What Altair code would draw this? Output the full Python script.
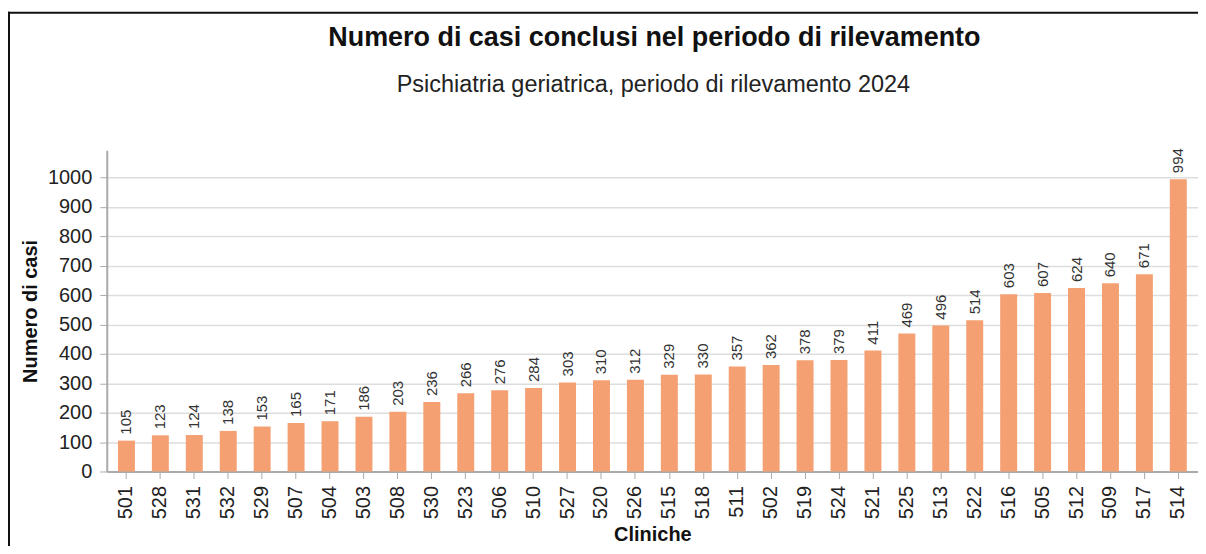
import altair as alt
import pandas as pd

cliniche = ["501", "528", "531", "532", "529", "507", "504", "503", "508", "530",
            "523", "506", "510", "527", "520", "526", "515", "518", "511", "502",
            "519", "524", "521", "525", "513", "522", "516", "505", "512", "509",
            "517", "514"]
casi = [105, 123, 124, 138, 153, 165, 171, 186, 203, 236,
        266, 276, 284, 303, 310, 312, 329, 330, 357, 362,
        378, 379, 411, 469, 496, 514, 603, 607, 624, 640,
        671, 994]
y_ticks = [0, 100, 200, 300, 400, 500, 600, 700, 800, 900, 1000]
title_text = "Numero di casi conclusi nel periodo di rilevamento"
subtitle_text = "Psichiatria geriatrica, periodo di rilevamento 2024"

df = pd.DataFrame({"Cliniche": cliniche, "Casi": casi})
one_row = pd.DataFrame({"f": [0]})

FONT = "Liberation Sans"

x_enc = alt.X("Cliniche:N", sort=None, title="Cliniche",
              scale=alt.Scale(paddingInner=0.5, paddingOuter=0.33),
              axis=alt.Axis(labelAngle=-90, labelFontSize=20, labelColor="#222",
                            labelPadding=7, tickSize=7, tickColor="#aaa",
                            domainColor="#aaa", domainWidth=2,
                            titleFontSize=20, titleFontWeight="bold",
                            titleColor="#111", titlePadding=6, labelBaseline="middle"))
y_enc = alt.Y("Casi:Q", title="Numero di casi",
              scale=alt.Scale(domain=[0, 1092], nice=False),
              axis=alt.Axis(values=y_ticks, format="d", labelOverlap=False,
                            labelFontSize=20, labelColor="#222",
                            labelPadding=8, tickSize=7, tickColor="#aaa",
                            domainColor="#aaa", domainWidth=2,
                            gridColor="#dddddd", gridWidth=1.5,
                            titleFontSize=20, titleFontWeight="bold",
                            titleColor="#111", titlePadding=7))

bars = alt.Chart(df).mark_bar(color="#F4A073").encode(x=x_enc, y=y_enc)
labels = alt.Chart(df).mark_text(angle=270, align="left", baseline="middle",
                                 dx=6, fontSize=15, color="#333", font=FONT).encode(
    x=x_enc, y=y_enc, text="Casi:Q")

top_line = alt.Chart(one_row).mark_rule(color="#111", strokeWidth=2).encode(
    x=alt.value(-99), x2=alt.value(1094), y=alt.value(-138))
left_line = alt.Chart(one_row).mark_rule(color="#111", strokeWidth=2).encode(
    x=alt.value(-98), y=alt.value(-139), y2=alt.value(400))

title_mark = alt.Chart(one_row).mark_text(
    text=title_text, fontSize=27, fontWeight="bold", color="#111", font=FONT,
    align="center", baseline="alphabetic").encode(
    x=alt.value(549), y=alt.value(-105))
subtitle_mark = alt.Chart(one_row).mark_text(
    text=subtitle_text, fontSize=23.5, color="#222", font=FONT,
    align="center", baseline="alphabetic").encode(
    x=alt.value(548), y=alt.value(-58))

chart = alt.layer(bars, labels, top_line, left_line, title_mark, subtitle_mark).properties(
    width=1094, height=322,
    autosize=alt.AutoSizeParams(type="none"),
    padding={"left": 99, "top": 142, "right": 0, "bottom": 74},
).configure(font=FONT).configure_view(stroke=None)

chart.save("out.html", embed_options={"renderer": "svg", "actions": False})
